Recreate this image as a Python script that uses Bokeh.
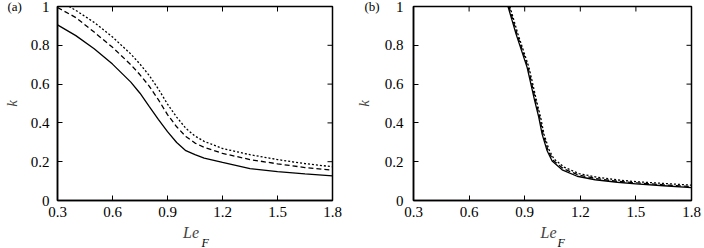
import math
from bokeh.plotting import figure
from bokeh.models import Range1d, FixedTicker, Title
from bokeh.layouts import row
from bokeh.embed import file_html
from bokeh.resources import INLINE

# ---- data ----
xticks = [0.3, 0.6, 0.9, 1.2, 1.5, 1.8]
yticks = [0, 0.2, 0.4, 0.6, 0.8, 1.0]
xtick_labels = ["0.3", "0.6", "0.9", "1.2", "1.5", "1.8"]
ytick_labels = ["0", "0.2", "0.4", "0.6", "0.8", "1"]

a_x = [0.30, 0.40, 0.50, 0.60, 0.70, 0.75, 0.80, 0.85, 0.90, 0.95, 1.00, 1.05, 1.10, 1.20, 1.35, 1.50, 1.65, 1.80]
a_solid = [0.905, 0.850, 0.782, 0.703, 0.610, 0.553, 0.485, 0.418, 0.355, 0.299, 0.257, 0.236, 0.219, 0.196, 0.164, 0.149, 0.137, 0.127]
a_dashed = [0.995, 0.943, 0.868, 0.790, 0.700, 0.648, 0.590, 0.520, 0.443, 0.380, 0.330, 0.296, 0.274, 0.243, 0.211, 0.189, 0.170, 0.156]
a_dot_x = [0.363, 0.40, 0.50, 0.60, 0.70, 0.75, 0.80, 0.85, 0.90, 0.95, 1.00, 1.05, 1.10, 1.20, 1.35, 1.50, 1.65, 1.80]
a_dotted = [1.000, 0.980, 0.918, 0.843, 0.755, 0.703, 0.645, 0.575, 0.497, 0.430, 0.372, 0.332, 0.305, 0.268, 0.236, 0.211, 0.190, 0.174]

b_solid_x = [0.810, 0.853, 0.913, 0.954, 0.976, 0.994, 1.021, 1.048, 1.102, 1.183, 1.28, 1.40, 1.50, 1.65, 1.80]
b_solid = [1.000, 0.859, 0.686, 0.514, 0.428, 0.342, 0.256, 0.204, 0.158, 0.125, 0.107, 0.094, 0.086, 0.076, 0.066]
b_dashed_x = [0.815, 0.858, 0.918, 0.959, 0.981, 0.999, 1.026, 1.053, 1.107, 1.188, 1.285, 1.40, 1.50, 1.65, 1.80]
b_dashed = [1.000, 0.859, 0.686, 0.514, 0.428, 0.342, 0.258, 0.208, 0.165, 0.132, 0.113, 0.099, 0.091, 0.081, 0.072]
b_dotted_x = [0.820, 0.863, 0.923, 0.964, 0.986, 1.004, 1.031, 1.058, 1.112, 1.193, 1.29, 1.40, 1.50, 1.65, 1.80]
b_dotted = [1.000, 0.859, 0.686, 0.514, 0.428, 0.342, 0.262, 0.214, 0.172, 0.139, 0.120, 0.106, 0.097, 0.088, 0.079]

FONT = "Liberation Serif"


def make_panel(tag, left, right, tick_standoff, label_standoff, tag_x, series):
    p = figure(width=352, height=248, output_backend="svg", toolbar_location=None,
               x_range=Range1d(xticks[0], xticks[-1]), y_range=Range1d(yticks[0], yticks[-1]),
               min_border_left=left, min_border_right=right,
               min_border_top=6, min_border_bottom=48,
               background_fill_color="white", border_fill_color="white")
    p.xgrid.visible = False
    p.ygrid.visible = False
    p.outline_line_color = "black"
    p.outline_line_width = 1.5

    for ax in (p.xaxis[0], p.yaxis[0]):
        ax.major_tick_in = 5
        ax.major_tick_out = 0
        ax.minor_tick_in = 0
        ax.minor_tick_out = 0
        ax.axis_line_width = 1.5
        ax.major_tick_line_width = 1
        ax.major_label_text_font = FONT
        ax.major_label_text_font_size = "15px"
        ax.major_label_text_color = "black"
    p.xaxis[0].ticker = FixedTicker(ticks=xticks)
    p.xaxis[0].major_label_overrides = {t: l for t, l in zip(xticks, xtick_labels)}
    p.xaxis[0].major_label_standoff = 6
    p.xaxis[0].axis_label = "Le\u2002"
    p.xaxis[0].axis_label_text_font = FONT
    p.xaxis[0].axis_label_text_font_style = "italic"
    p.xaxis[0].axis_label_text_font_size = "16px"
    p.xaxis[0].axis_label_standoff = 4
    p.yaxis[0].ticker = FixedTicker(ticks=yticks)
    p.yaxis[0].major_label_overrides = {t: l for t, l in zip(yticks, ytick_labels)}
    p.yaxis[0].major_label_standoff = tick_standoff
    p.yaxis[0].axis_label = "k"
    p.yaxis[0].axis_label_text_font = FONT
    p.yaxis[0].axis_label_text_font_style = "italic"
    p.yaxis[0].axis_label_text_font_size = "15px"
    p.yaxis[0].axis_label_standoff = label_standoff

    # mirrored inward ticks on the top and right edges (half of each dash is clipped by the frame)
    p.scatter(xticks, [yticks[-1]] * len(xticks), marker="dash", size=10,
              angle=math.pi / 2, line_color="black", line_width=1)
    p.scatter([xticks[-1]] * len(yticks), yticks, marker="dash", size=10,
              line_color="black", line_width=1)

    for xs, ys, dash in series:
        p.line(xs, ys, line_color="black", line_width=1.3, line_dash=dash)

    # panel tag "(a)" / "(b)"
    p.title.text = tag
    p.title.align = "left"
    p.title.offset = tag_x - left
    p.title.standoff = -14
    p.title.text_font = FONT
    p.title.text_font_style = "normal"
    p.title.text_font_size = "13px"
    p.title.text_color = "black"

    # subscript F of Le_F
    p.add_layout(Title(text="F", align="left", vertical_align="top", offset=144, standoff=-16,
                       text_font=FONT, text_font_style="italic", text_font_size="12px",
                       text_color="black"), "below")
    return p


pa = make_panel("(a)", 53, 20, 8, 8, 3, [(a_x, a_solid, "solid"), (a_x, a_dashed, "5 3"),
                                         (a_dot_x, a_dotted, "2 2")])
pb = make_panel("(b)", 61, 13, 10, 10, 12, [(b_solid_x, b_solid, "solid"), (b_dashed_x, b_dashed, "5 3"),
                                            (b_dotted_x, b_dotted, "2 2")])

layout = row(pa, pb)
open("out.html", "w").write(file_html(layout, INLINE))
